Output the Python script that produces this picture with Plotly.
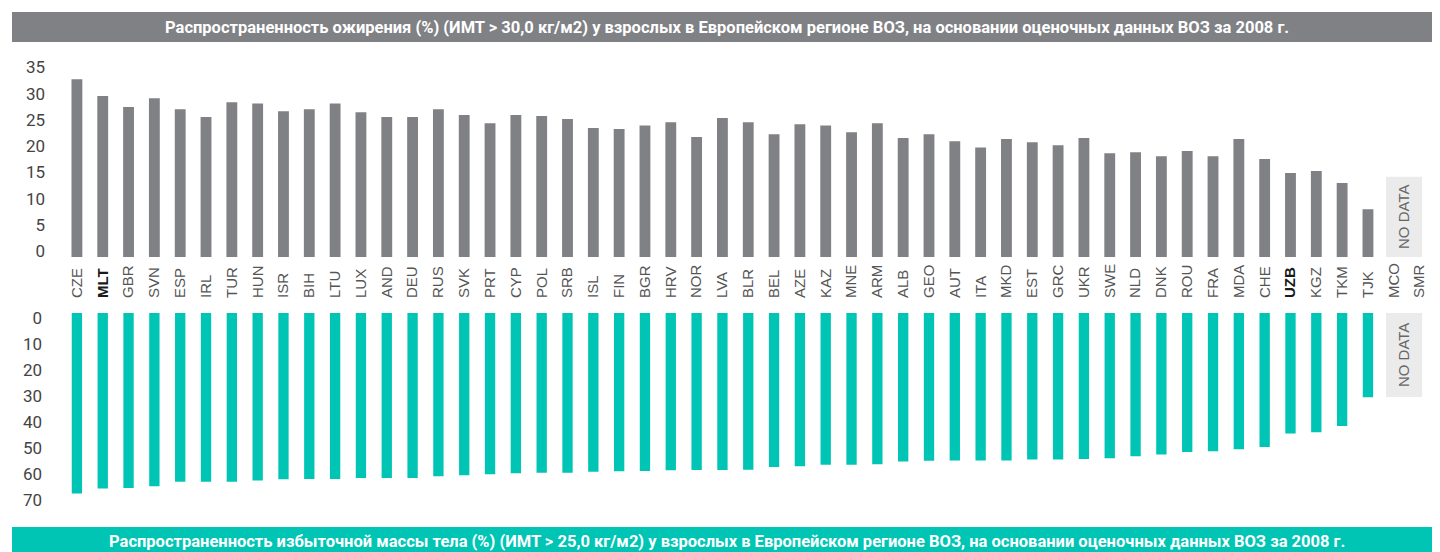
import plotly.graph_objects as go

countries = ["CZE", "MLT", "GBR", "SVN", "ESP", "IRL", "TUR", "HUN", "ISR", "BIH",
             "LTU", "LUX", "AND", "DEU", "RUS", "SVK", "PRT", "CYP", "POL", "SRB",
             "ISL", "FIN", "BGR", "HRV", "NOR", "LVA", "BLR", "BEL", "AZE", "KAZ",
             "MNE", "ARM", "ALB", "GEO", "AUT", "ITA", "MKD", "EST", "GRC", "UKR",
             "SWE", "NLD", "DNK", "ROU", "FRA", "MDA", "CHE", "UZB", "KGZ", "TKM",
             "TJK", "MCO", "SMR"]
bold_countries = ["MLT", "UZB"]

# Obesity prevalence, % (BMI > 30)
obesity = [33.9, 30.7, 28.6, 30.3, 28.2, 26.7, 29.5, 29.3, 27.8, 28.2,
           29.3, 27.6, 26.7, 26.7, 28.2, 27.1, 25.5, 27.1, 26.9, 26.3,
           24.6, 24.4, 25.1, 25.7, 22.9, 26.5, 25.7, 23.4, 25.3, 25.1,
           23.8, 25.5, 22.7, 23.4, 22.1, 20.9, 22.5, 21.9, 21.3, 22.7,
           19.8, 20.0, 19.2, 20.2, 19.2, 22.5, 18.7, 16.0, 16.4, 14.1,
           9.1, None, None]

# Overweight prevalence, % (BMI > 25)
overweight = [69.4, 67.5, 67.3, 66.6, 64.9, 64.9, 64.9, 64.4, 63.9, 63.8,
              63.8, 63.5, 63.5, 63.5, 62.8, 62.4, 62.0, 61.6, 61.4, 61.4,
              61.1, 60.9, 60.8, 60.5, 60.4, 60.4, 60.3, 59.2, 58.9, 58.4,
              58.4, 58.2, 57.1, 56.8, 56.7, 56.7, 56.7, 56.3, 56.3, 56.2,
              55.9, 55.1, 54.4, 53.5, 53.2, 52.4, 51.5, 46.3, 45.9, 43.5,
              32.4, None, None]

top_ticks = [0, 5, 10, 15, 20, 25, 30, 35]
bottom_ticks = [0, 10, 20, 30, 40, 50, 60, 70]

title_top = ("Распространенность ожирения (%) (ИМТ > 30,0 кг/м2) у взрослых в Европейском "
             "регионе ВОЗ, на основании оценочных данных ВОЗ за 2008 г.")
title_bottom = ("Распространенность избыточной массы тела (%) (ИМТ > 25,0 кг/м2) у взрослых в "
                "Европейском регионе ВОЗ, на основании оценочных данных ВОЗ за 2008 г.")
no_data_label = "NO DATA"

W, H = 1440, 552
OFF = 8  # page body margin offset
GRAY = "#808185"
TEAL = "#00c5b5"


def fy(px):
    return (H - (px - OFF)) / H


def fx(px):
    return (px - OFF) / W


ticktext = [f"<b><span style='color:#1a1a1a'>{c}</span></b>" if c in bold_countries else c
            for c in countries]

fig = go.Figure()
fig.add_trace(go.Bar(x=countries, y=obesity, xaxis="x", yaxis="y",
                     marker=dict(color=GRAY, line=dict(width=0)), width=0.42,
                     hoverinfo="x+y", showlegend=False))
fig.add_trace(go.Bar(x=countries, y=overweight, xaxis="x2", yaxis="y2",
                     marker=dict(color=TEAL, line=dict(width=0)), width=0.40,
                     hoverinfo="x+y", showlegend=False))

x_dom = [fx(64), fx(1432.5)]
top_base, top_top = 257, 60
top_scale = 183.5 / 35
bot_base, bot_bottom = 313, 510
bot_scale = 2.6

axis_font = dict(family="Roboto, Liberation Sans Narrow, sans-serif", size=17, color="#444444")
nrange = [-0.5, len(countries) - 0.5]

fig.update_layout(
    width=W, height=H,
    margin=dict(l=0, r=0, t=0, b=0, autoexpand=False),
    paper_bgcolor="white", plot_bgcolor="white",
    xaxis=dict(domain=x_dom, anchor="y", type="category", categoryorder="array",
               categoryarray=countries, range=nrange, automargin=False,
               showticklabels=False, showgrid=False, zeroline=False, showline=False,
               ticks=""),
    xaxis2=dict(domain=x_dom, anchor="y2", type="category", categoryorder="array",
                categoryarray=countries, range=nrange, automargin=False,
                side="top", tickangle=-90, tickvals=countries, ticktext=ticktext,
                tickfont=dict(family="Liberation Sans, Arial, sans-serif", size=15, color="#555555"),
                ticklabelstandoff=14,
                showgrid=False, zeroline=False, showline=False, ticks=""),
    yaxis=dict(domain=[fy(top_base), fy(top_top)], anchor="x", automargin=False,
               range=[0, (top_base - top_top) / top_scale],
               tickvals=top_ticks, ticktext=[str(t) for t in top_ticks],
               tickfont=axis_font, ticklabelshift=-6, ticklabelstandoff=18,
               showgrid=False, zeroline=False, showline=False, ticks=""),
    yaxis2=dict(domain=[fy(bot_bottom), fy(bot_base)], anchor="x2", automargin=False,
                range=[(bot_bottom - bot_base) / bot_scale, 0],
                tickvals=bottom_ticks, ticktext=[str(t) for t in bottom_ticks],
                tickfont=axis_font, ticklabelshift=-5, ticklabelstandoff=21,
                showgrid=False, zeroline=False, showline=False, ticks=""),
)

# Title bars
fig.add_shape(type="rect", xref="paper", yref="paper", x0=fx(12), x1=fx(1448),
              y0=fy(42), y1=fy(12), fillcolor=GRAY, line=dict(width=0), layer="below")
fig.add_annotation(xref="paper", yref="paper", x=fx(727), y=fy(27),
                   text=f"<b>{title_top}</b>", showarrow=False,
                   font=dict(family="Roboto, sans-serif", size=16.5, color="white"),
                   xanchor="center", yanchor="middle")
fig.add_shape(type="rect", xref="paper", yref="paper", x0=fx(12), x1=fx(1448),
              y0=fy(560), y1=fy(527), fillcolor=TEAL, line=dict(width=0), layer="below")
fig.add_annotation(xref="paper", yref="paper", x=fx(727), y=fy(541),
                   text=f"<b>{title_bottom}</b>", showarrow=False,
                   font=dict(family="Roboto, sans-serif", size=16.5, color="white"),
                   xanchor="center", yanchor="middle")

# NO DATA boxes
i0 = countries.index("MCO")
i1 = countries.index("SMR")
top_box_h = 15.3
bot_box_h = 32.3
bx0, bx1 = i0 - 0.3, i1 + 0.1
fig.add_shape(type="rect", xref="x", yref="y", x0=bx0, x1=bx1,
              y0=0, y1=top_box_h, fillcolor="#ebebeb", line=dict(width=0), layer="below")
fig.add_annotation(xref="x", yref="y", x=(bx0 + bx1) / 2, y=top_box_h / 2,
                   text=no_data_label, textangle=-90, showarrow=False,
                   font=dict(family="Liberation Sans, Arial, sans-serif", size=15, color="#666666"))
fig.add_shape(type="rect", xref="x2", yref="y2", x0=bx0, x1=bx1,
              y0=0, y1=bot_box_h, fillcolor="#ebebeb", line=dict(width=0), layer="below")
fig.add_annotation(xref="x2", yref="y2", x=(bx0 + bx1) / 2, y=bot_box_h / 2,
                   text=no_data_label, textangle=-90, showarrow=False,
                   font=dict(family="Liberation Sans, Arial, sans-serif", size=15, color="#666666"))

fig.write_html("out.html")
